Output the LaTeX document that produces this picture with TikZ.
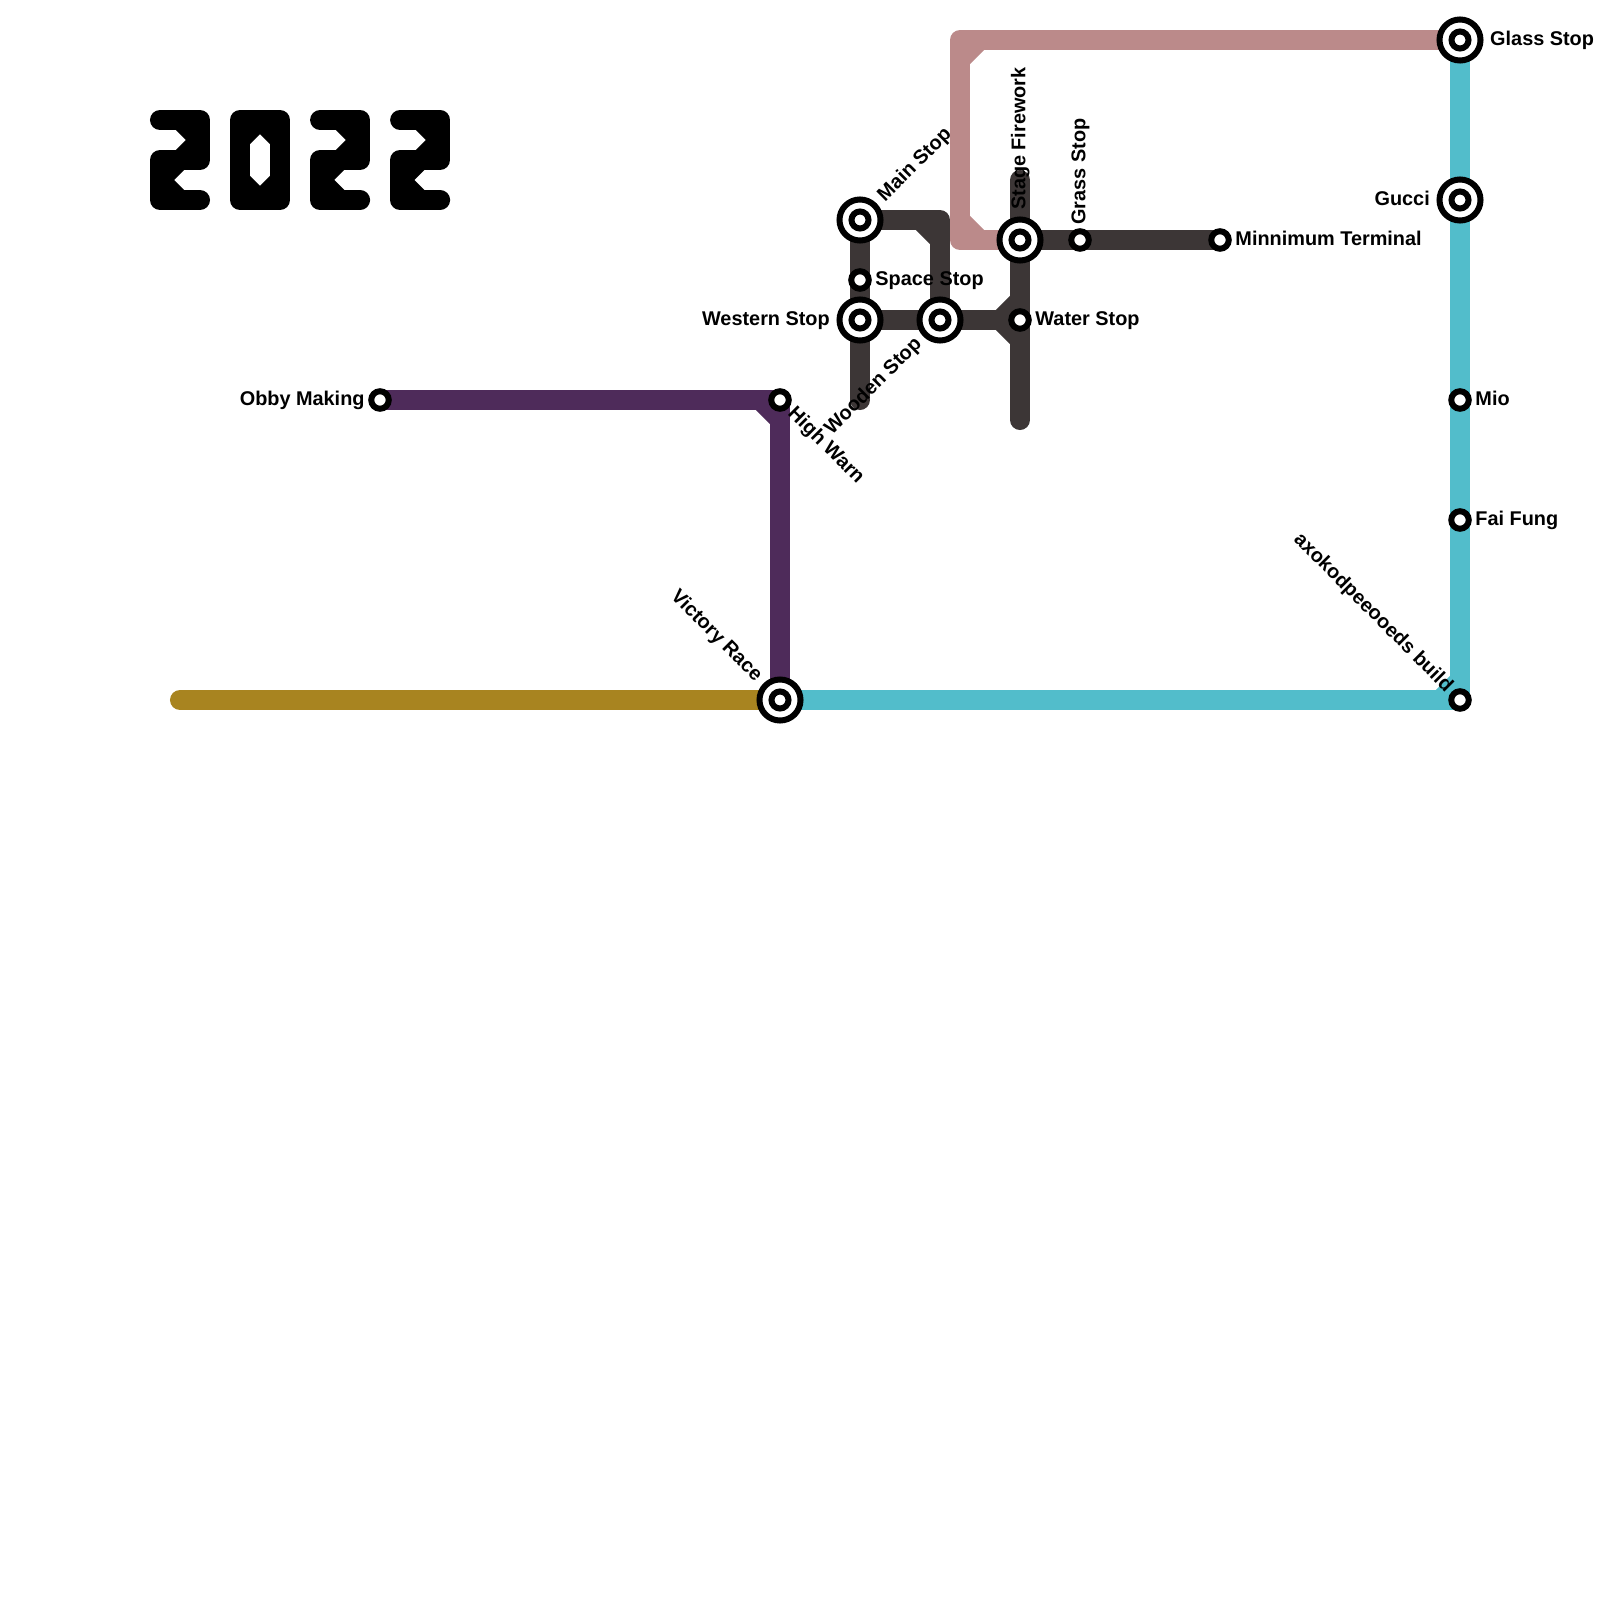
\documentclass[tikz,border=0pt]{standalone}
\usepackage{xcolor}
\usepackage{fontspec}
\setmainfont{Liberation Sans}
\usepackage{tikz}
\usetikzlibrary{positioning, backgrounds}
\definecolor{roseline}{RGB}{187,138,138}
\definecolor{slateline}{RGB}{60,54,54}
\definecolor{plumline}{RGB}{78,43,90}
\definecolor{goldline}{RGB}{168,132,32}
\definecolor{tealline}{RGB}{82,189,203}

\begin{document}
\begin{tikzpicture}[
    x=0.01cm, y=-0.01cm,
    % Station Styles
    halt/.style={circle, draw=black, fill=white, line width=0.6mm, minimum size=1.75mm, inner sep=0pt},
    hub/.style={circle, draw=black, fill=white, line width=0.6mm, minimum size=4.1mm, inner sep=0pt,
        path picture={\draw[line width=0.6mm] (path picture bounding box.center) circle (0.85mm);}},
    stopname/.style={inner sep=0pt, text height=1.45mm, text depth=0.4mm, font=\fontsize{5.65pt}{6.8pt}\selectfont\bfseries},
    % Line Styles
    metro/.style={draw, line width=2mm, line join=round, line cap=round},
    numeral/.style={draw=black, line width=2mm, line join=round, line cap=round},
    notch/.style={line width=2mm, line join=bevel}
]
    \useasboundingbox (0,0) rectangle (1600,1600);

    % Stations
    \node [hub] (glass) at (1460,40) {};
    \node [hub] (gucci) at (1460,200) {};
    \node [halt] (mio) at (1460,400) {};
    \node [halt] (faifung) at (1460,520) {};
    \node [halt] (axo) at (1460,700) {};
    \node [hub] (victory) at (780,700) {};
    \node [halt] (highwarn) at (780,400) {};
    \node [halt] (obby) at (380,400) {};
    \node [hub] (mainstop) at (860,220) {};
    \node [halt] (space) at (860,280) {};
    \node [hub] (western) at (860,320) {};
    \node [hub] (wooden) at (940,320) {};
    \node [hub] (firework) at (1020,240) {};
    \node [halt] (water) at (1020,320) {};
    \node [halt] (grass) at (1080,240) {};
    \node [halt] (minnimum) at (1220,240) {};

    % Free line ends and corners
    \coordinate (goldend) at (180,700);
    \coordinate (westend) at (860,400);
    \coordinate (fireworktop) at (1020,180);
    \coordinate (waterend) at (1020,420);
    \coordinate (rosetop) at (960,40);
    \coordinate (rosefoot) at (960,240);

    % Labels
    \node [stopname, right=0.6mm of glass] (glasslabel) {Glass Stop};
    \node [stopname, left=0.6mm of gucci] (guccilabel) {Gucci};
    \node [stopname, right=0.3mm of mio] (miolabel) {Mio};
    \node [stopname, right=0.3mm of faifung] (faifunglabel) {Fai Fung};
    \node [stopname, left=0.3mm of obby] (obbylabel) {Obby Making};
    \node [stopname, right=0.3mm of space] (spacelabel) {Space Stop};
    \node [stopname, left=0.6mm of western] (westernlabel) {Western Stop};
    \node [stopname, right=0.3mm of water] (waterlabel) {Water Stop};
    \node [stopname, right=0.3mm of minnimum] (minnimumlabel) {Minnimum Terminal};
    \node [stopname, rotate=90, above=0.6mm of firework, anchor=west] (fireworklabel) {Stage Firework};
    \node [stopname, rotate=90, above=0.3mm of grass, anchor=west] (grasslabel) {Grass Stop};
    \node [stopname, rotate=45, above right=0.6mm of mainstop, anchor=west] (mainlabel) {Main Stop};
    \node [stopname, rotate=45, below left=0.6mm of wooden, anchor=east] (woodenlabel) {Wooden Stop};
    \node [stopname, rotate=-45, below right=0.3mm of highwarn, anchor=west] (highwarnlabel) {High Warn};
    \node [stopname, rotate=-45, above left=0.6mm of victory, anchor=east] (victorylabel) {Victory Race};
    \node [stopname, rotate=-45, above left=0.3mm of axo, anchor=east] (axolabel) {axokodpeeooeds build};

    \begin{pgfonlayer}{background}
        % Gold and plum
        \draw [metro, color=goldline] (goldend) -- (victory.center);
        \draw [metro, color=plumline] (obby.center) -| (victory.center);
        \draw [notch, draw=plumline] (760,400) -- (780,420);

        % Slate network
        \draw [metro, color=slateline] (mainstop.center) -- (westend);
        \draw [metro, color=slateline] (mainstop.center) -| (wooden.center);
        \draw [notch, draw=slateline] (920,220) -- (940,240);
        \draw [metro, color=slateline] (western.center) -- (water.center);
        \draw [metro, color=slateline] (fireworktop) -- (waterend);
        \draw [notch, draw=slateline] (1000,320) -- (1020,300);
        \draw [notch, draw=slateline] (1000,320) -- (1020,340);
        \draw [metro, color=slateline] (firework.center) -- (minnimum.center);

        % Rose
        \draw [metro, color=roseline] (glass.center) -- (rosetop) -- (rosefoot) -- (firework.center);
        \draw [notch, draw=roseline] (960,60) -- (980,40);
        \draw [notch, draw=roseline] (960,220) -- (980,240);

        % Teal
        \draw [metro, color=tealline] (glass.center) -- (axo.center) -- (victory.center);
        \draw [notch, draw=tealline] (1440,700) -- (1460,680);
    \end{pgfonlayer}

    % Year numerals
    \foreach \x in {0,160,240} {
        \begin{scope}[xshift=\x*0.1mm]
            \draw [numeral] (160,120) -- (200,120) -- (200,160) -- (160,160) -- (160,200) -- (200,200);
            \draw [notch, draw=black] (180,120) -- (200,140);
            \draw [notch, draw=black] (200,140) -- (180,160);
            \draw [notch, draw=black] (180,160) -- (160,180);
            \draw [notch, draw=black] (160,180) -- (180,200);
        \end{scope}
    }
    \draw [numeral] (240,120) -- (280,120) -- (280,200) -- (240,200) -- cycle;
    \draw [notch, draw=black] (240,140) -- (260,120);
    \draw [notch, draw=black] (260,120) -- (280,140);
    \draw [notch, draw=black] (240,180) -- (260,200);
    \draw [notch, draw=black] (260,200) -- (280,180);

\end{tikzpicture}
\end{document}
